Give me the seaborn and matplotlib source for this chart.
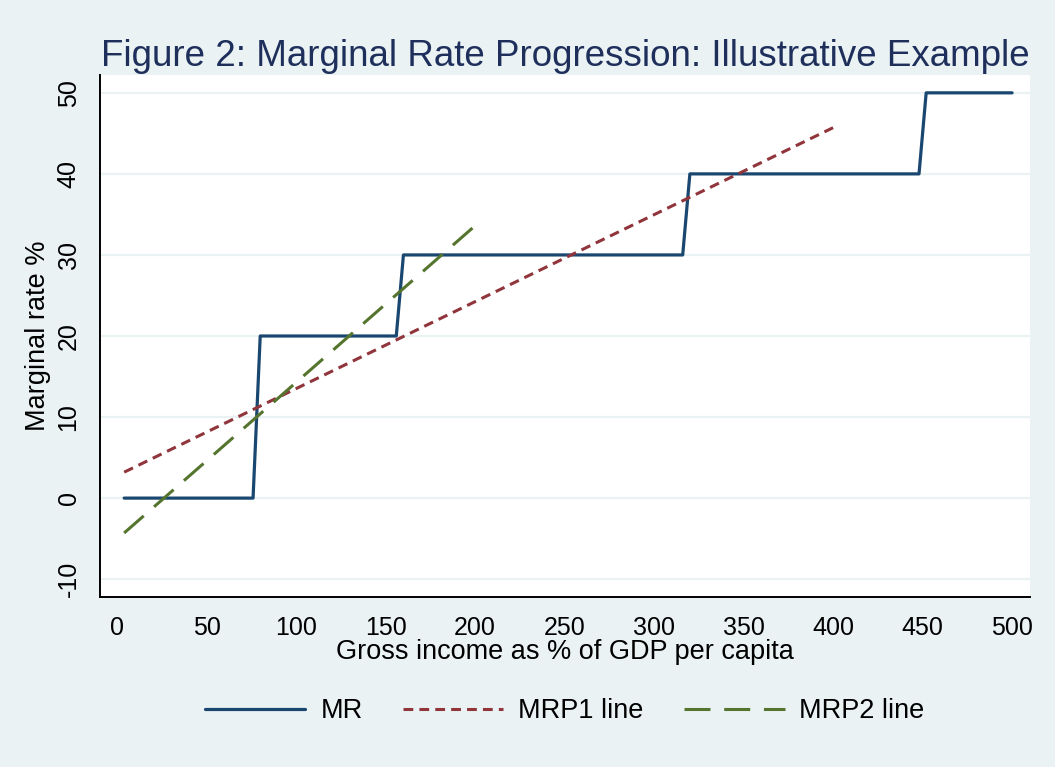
import pandas as pd
import matplotlib.pyplot as plt
import seaborn as sns

sns.set_theme(style="white")
plt.rcParams['font.family'] = ['Liberation Sans', 'DejaVu Sans']
plt.rcParams['axes.unicode_minus'] = False
plt.rcParams['text.color'] = 'black'

# Marginal rate schedule (step function drawn as connected points)
mr_x = [4, 76, 80, 156, 160, 316, 320, 448, 452, 500]
mr_y = [0, 0, 20, 20, 30, 30, 40, 40, 50, 50]

# Fitted progression lines
mrp1_x = [4, 400]
mrp1_y = [3.2, 45.7]
mrp2_x = [4, 200]
mrp2_y = [-4.3, 33.6]

x_ticks = [0, 50, 100, 150, 200, 250, 300, 350, 400, 450, 500]
y_ticks = [-10, 0, 10, 20, 30, 40, 50]

bg = '#EAF2F3'
navy = '#1a476f'
maroon = '#90353b'
green = '#55752f'

fig = plt.figure(figsize=(10.55, 7.67), dpi=100)
fig.patch.set_facecolor(bg)
ax = fig.add_axes([100 / 1055, 1 - 597 / 767, 930 / 1055, 522 / 767])
ax.set_facecolor('white')

for y in y_ticks:
    ax.axhline(y, color=bg, lw=1.6, zorder=0)

sns.lineplot(x=mr_x, y=mr_y, ax=ax, color=navy, lw=2.3, sort=False,
             estimator=None, label='MR')
sns.lineplot(x=mrp1_x, y=mrp1_y, ax=ax, color=maroon, lw=2.2, sort=False,
             estimator=None, label='MRP1 line', dashes=False)
ax.lines[-1].set_dashes([3.2, 2.0])
sns.lineplot(x=mrp2_x, y=mrp2_y, ax=ax, color=green, lw=2.2, sort=False,
             estimator=None, label='MRP2 line', dashes=False)
ax.lines[-1].set_dashes([8.5, 4.5])

ax.set_xlim(-9.5, 510)
ax.set_ylim(-12.2, 52.2)
ax.set_xticks(x_ticks)
ax.set_yticks(y_ticks)
ax.tick_params(axis='both', direction='out', length=8, width=1.2, color='#333333',
               labelsize=18, labelcolor='black', pad=6)
for lab in ax.get_yticklabels():
    lab.set_rotation(90)
    lab.set_va('center')

for side in ['top', 'right']:
    ax.spines[side].set_visible(False)
for side in ['left', 'bottom']:
    ax.spines[side].set_color('black')
    ax.spines[side].set_linewidth(1.4)

ax.set_xlabel('Gross income as % of GDP per capita', fontsize=19.5, labelpad=-1, color='black')
ax.set_ylabel('Marginal rate %', fontsize=19.5, labelpad=4, color='black')

fig.text(565 / 1055, 1 - 66 / 767, 'Figure 2: Marginal Rate Progression: Illustrative Example',
         ha='center', va='baseline', fontsize=26.5, color='#1e2f5c')

handles, labels = ax.get_legend_handles_labels()
ax.legend(handles, labels, loc='center', bbox_to_anchor=(565 / 1055, 1 - 711 / 767),
          bbox_transform=fig.transFigure, ncol=3, frameon=False, fontsize=19.5,
          handlelength=3.7, handletextpad=0.55, columnspacing=1.5)

fig.savefig('out.png', dpi=100, facecolor=bg)
